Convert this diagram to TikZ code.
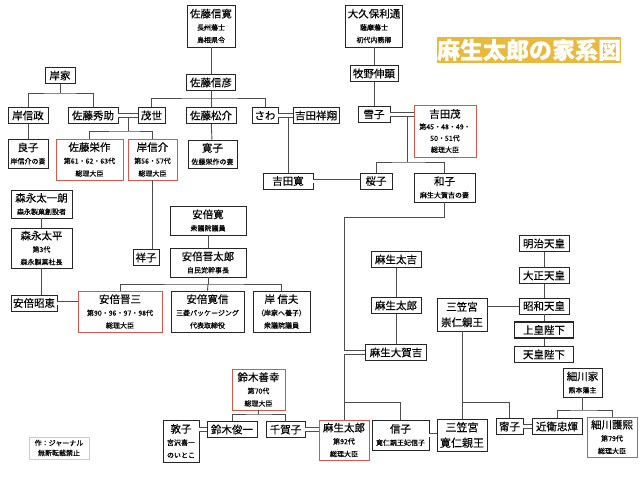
\documentclass[tikz,border=0pt]{standalone}
\usepackage{fontspec}
\setmainfont{Noto Sans CJK JP}[FakeBold=0.35]
\definecolor{pmred}{HTML}{D8574B}
\definecolor{titlegold}{HTML}{E9B93D}
\definecolor{linegray}{HTML}{4D4D4D}
\newcommand\sm[1]{{\fontsize{7}{12.5}\selectfont #1}}
\tikzset{
  box/.style={draw=black!85, line width=0.9pt, fill=white, inner sep=2pt,
    minimum height=16, align=center, font=\fontsize{10.5}{12.5}\selectfont},
  pm/.style={box, draw=pmred, line width=0.8pt},
  ten/.style={box, line width=1.5pt},
  link/.style={draw=linegray, line width=0.9pt},
  wed/.style={link, double=white, double distance=3pt},
}
\begin{document}
\begin{tikzpicture}[x=1pt, y=-1pt]
  \useasboundingbox (0,0) rectangle (640,480);
  \node[fill=titlegold, text=white, inner sep=0pt, minimum width=176, minimum height=26,
    font=\fontsize{23}{26}\selectfont\bfseries] (title) at (529,50) {麻生太郎の家系図};

  % 岸家・佐藤家
  \node[box, minimum width=30] (kishike) at (60,75.5) {岸家};
  \node[box, minimum width=40] (nobumasa) at (28,115.5) {岸信政};
  \node[box, minimum width=50] (hidesuke) at (93,115.5) {佐藤秀助};
  \node[box, minimum width=27] (moyo) at (151.5,115.5) {茂世};
  \node[box, minimum width=48, minimum height=42] (nobuhiro) at (211,26) {佐藤信寛\\\sm{長州藩士}\\\sm{島根県令}};
  \node[box, minimum width=49] (nobuhiko) at (211,82.5) {佐藤信彦};
  \node[box, minimum width=50] (shosuke) at (211,115.5) {佐藤松介};
  \node[box, minimum width=26] (sawa) at (265,115.5) {さわ};
  \node[box, minimum width=42] (shosho) at (316,115.5) {吉田祥翔};
  \node[box, minimum width=40, minimum height=29] (yoshiko) at (28,153.5) {良子\\\sm{岸信介の妻}};
  \node[pm, minimum width=67, minimum height=41] (eisaku) at (89.5,159.5) {佐藤栄作\\\sm{第61・62・63代}\\\sm{総理大臣}};
  \node[pm, minimum width=49, minimum height=41] (nobusuke) at (152.5,159.5) {岸信介\\\sm{第56・57代}\\\sm{総理大臣}};
  \node[box, minimum width=49, minimum height=28] (hiroko) at (212.5,154) {寛子\\\sm{佐藤栄作の妻}};

  % 大久保家・吉田家
  \node[box, minimum width=54, minimum height=42] (okubo) at (374,26) {大久保利通\\\sm{薩摩藩士}\\\sm{初代内務卿}};
  \node[box, minimum width=48] (makino) at (374,73.5) {牧野伸顕};
  \node[box, minimum width=32] (yukiko) at (374,114.5) {雪子};
  \node[pm, minimum width=62, minimum height=52, font=\fontsize{10.5}{11.5}\selectfont] (shigeru) at (445,131)
    {吉田茂\\\sm{第45・48・49・}\\\sm{50・51代}\\\sm{総理大臣}};
  \node[box, minimum width=50] (yoshidaken) at (288,181) {吉田寛};
  \node[box, minimum width=32] (sakurako) at (376,181) {桜子};
  \node[box, minimum width=61, minimum height=29] (kazuko) at (444.5,187.5) {和子\\\sm{麻生大賀吉の妻}};

  % 森永家・安倍家
  \node[box, minimum width=61, minimum height=28] (taichiro) at (41.5,204) {森永太一朗\\\sm{森永製菓創設者}};
  \node[box, minimum width=61, minimum height=40] (taihei) at (41.5,248) {森永太平\\\sm{第3代}\\\sm{森永製菓社長}};
  \node[box, minimum width=46] (akie) at (34,303) {安倍昭恵};
  \node[box, minimum width=76, minimum height=29] (kan) at (208,220.5) {安倍寛\\\sm{衆議院議員}};
  \node[box, minimum width=76, minimum height=29] (shintaro) at (208,262.5) {安倍晋太郎\\\sm{自民党幹事長}};
  \node[box, minimum width=26] (sachiko) at (146,257.5) {祥子};
  \node[pm, minimum width=84, minimum height=41] (shinzo) at (120,311.5) {安倍晋三\\\sm{第90・96・97・98代}\\\sm{総理大臣}};
  \node[box, minimum width=73, minimum height=41] (hironobu) at (207.5,311.5) {安倍寛信\\\sm{三菱パッケージング}\\\sm{代表取締役}};
  \node[box, minimum width=57, minimum height=41] (nobuo) at (281.5,311.5) {岸 信夫\\\sm{（岸家へ養子）}\\\sm{衆議院議員}};

  % 麻生家・皇室
  \node[box, minimum width=50] (takichi) at (396,259.5) {麻生太吉};
  \node[box, minimum width=50] (tarom) at (396,305.5) {麻生太郎};
  \node[box, minimum width=61] (takakichi) at (396,352.5) {麻生大賀吉};
  \node[box, minimum width=50] (meiji) at (544,243.5) {明治天皇};
  \node[box, minimum width=50] (taisho) at (544,275.5) {大正天皇};
  \node[box, minimum width=50] (showa) at (544,306) {昭和天皇};
  \node[box, minimum width=50, minimum height=33] (takahito) at (462,314.5) {三笠宮\\[3pt]崇仁親王};
  \node[ten, minimum width=59] (joko) at (544,330) {上皇陛下};
  \node[ten, minimum width=59] (tenno) at (544,354.5) {天皇陛下};
  \node[box, minimum width=39, minimum height=29] (hosokawake) at (582.5,382.5) {細川家\\\sm{熊本藩主}};

  % 最下段
  \node[pm, minimum width=53, minimum height=41] (zenko) at (258.5,389.5) {鈴木善幸\\\sm{第70代}\\\sm{総理大臣}};
  \node[box, minimum width=36, minimum height=42] (atsuko) at (181,441) {敦子\\\sm{宮沢喜一}\\\sm{のいとこ}};
  \node[box, minimum width=50] (shunichi) at (232,429.5) {鈴木俊一};
  \node[box, minimum width=39] (chikako) at (285.5,429.5) {千賀子};
  \node[pm, minimum width=50, minimum height=40] (taro) at (344,440) {麻生太郎\\\sm{第92代}\\\sm{総理大臣}};
  \node[box, minimum width=57, minimum height=30] (nobuko) at (400.5,435) {信子\\\sm{寛仁親王妃信子}};
  \node[box, minimum width=50, minimum height=32, font=\fontsize{11}{12.5}\selectfont] (tomohito) at (462,435) {三笠宮\\[3pt]寛仁親王};
  \node[box, minimum width=27] (yasuko) at (509.5,426.5) {甯子};
  \node[box, minimum width=50] (konoe) at (557,426.5) {近衛忠煇};
  \node[pm, minimum width=50, minimum height=40] (morihiro) at (612,437) {細川護熙\\\sm{第79代}\\\sm{総理大臣}};
  \node[draw=black!20, line width=0.8pt, align=center, minimum width=60, minimum height=22, inner sep=1pt,
    font=\fontsize{7}{10}\selectfont] (credit) at (59,448) {作：ジャーナル\\無断転載禁止};

  % 分岐点
  \coordinate (kbar) at (60,93);
  \coordinate (nbar) at (211,98);
  \coordinate (hmkids) at (128,131);
  \coordinate (ysbar) at (407,162);
  \coordinate (kz) at (344,217);
  \coordinate (abar) at (344,402);
  \coordinate (stbar) at (208,284);
  \coordinate (tkbar) at (462,402);
  \coordinate (hkbar) at (582.5,410);
  \coordinate (szbar) at (258.5,414);

  % 親子
  \foreach \a/\b in {nobuhiro/nobuhiko, nobuhiko/shosuke, shosuke/hiroko, nobumasa/yoshiko,
      okubo/makino, makino/yukiko, taichiro/taihei, kan/shintaro, takichi/tarom, tarom/takakichi,
      meiji/taisho, taisho/showa, showa/joko, joko/tenno, takahito/tomohito}
    \draw[link] (\a) -- (\b);
  \draw[link] (kishike) -- (kbar);
  \draw[link] (nobumasa.north) |- (kbar) -| (hidesuke.north);
  \draw[link] (moyo.north) |- (nbar) -| (sawa.north);
  \draw[link] (hmkids |- moyo) -- (hmkids);
  \draw[link] (eisaku.north) |- (hmkids) -| (nobusuke.north);
  \draw[link] (nobusuke.south) -- (nobusuke.south |- sachiko.north);
  \draw[link] (yoshidaken.north) -- (yoshidaken.north |- sawa);
  \draw[link] (ysbar |- yukiko) -- (ysbar);
  \draw[link] (sakurako.north) |- (ysbar) -| (kazuko.north);
  \draw[link] (kazuko.south) |- (kz) -- (taro.north);
  \draw[link] (abar) -| (nobuko.north);
  \draw[link] (taihei.south) -- (taihei.south |- akie.north);
  \draw[link] (shintaro) -- (stbar);
  \draw[link] (shinzo.north) |- (stbar) -| (nobuo.north);
  \draw[link] (stbar) -- (hironobu.north);
  \draw[link] (takahito.east |- showa) -- (showa.west);
  \draw[link] (tkbar) -| (yasuko.north);
  \draw[link] (hosokawake) -- (hkbar);
  \draw[link] (konoe.north) |- (hkbar) -| (morihiro.north);
  \draw[link] (zenko) -- (szbar);
  \draw[link] (shunichi.north) |- (szbar) -| (chikako.north);

  % 夫婦
  \foreach \a/\b in {hidesuke/moyo, sawa/shosho, yukiko/shigeru, yoshidaken/sakurako, akie/shinzo,
      chikako/taro, nobuko/tomohito, yasuko/konoe}
    \draw[wed] (\a) -- (\a -| \b.west);
  \draw[wed] (shunichi) -- (shunichi -| atsuko.east);
  \draw[wed] (takakichi) -- (takakichi -| kz);
\end{tikzpicture}
\end{document}
